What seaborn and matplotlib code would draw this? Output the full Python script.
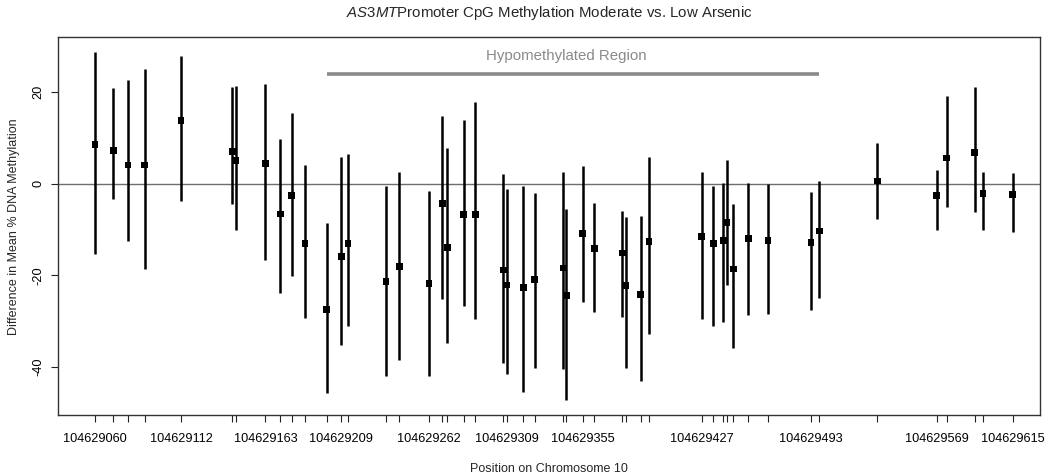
import numpy as np
import pandas as pd
import matplotlib
matplotlib.use("Agg")
import matplotlib.pyplot as plt
import seaborn as sns

# CpG positions on chromosome 10 (offset from 104629000)
offsets = [60, 71, 80, 90, 112, 143, 145, 163, 172, 179, 187, 200, 209, 213,
           236, 244, 262, 270, 273, 283, 290, 307, 309, 319, 326, 343, 345,
           355, 362, 379, 381, 390, 395, 427, 434, 440, 442, 446, 455, 467,
           493, 498, 533, 569, 575, 592, 597, 615]
positions = [104629000 + o for o in offsets]

# difference in mean % methylation (moderate vs. low) with CI bounds
mean_diff = [8.6, 7.3, 4.1, 4.1, 13.8, 7.1, 5.0, 4.4, -6.6, -2.6, -13.0, -27.5,
             -15.8, -13.0, -21.3, -18.1, -21.7, -4.4, -14.0, -6.8, -6.8, -18.8,
             -22.1, -22.7, -20.9, -18.4, -24.4, -10.8, -14.2, -15.1, -22.2,
             -24.1, -12.6, -11.6, -13.0, -12.3, -8.4, -18.6, -12.0, -12.3,
             -12.9, -10.3, 0.6, -2.5, 5.6, 6.8, -2.2, -2.4]
upper = [28.7, 20.8, 22.6, 25.1, 27.9, 21.0, 21.3, 21.7, 9.7, 15.4, 4.1, -8.5,
         5.9, 6.4, -0.4, 2.5, -1.6, 14.8, 7.8, 13.9, 17.8, 2.1, -1.2, -0.5,
         -2.1, 2.6, -5.6, 3.8, -4.3, -6.0, -7.3, -7.0, 5.8, 2.6, -0.5, 0.1,
         5.2, -4.5, 0.1, -0.1, -1.7, 0.5, 8.9, 2.9, 19.2, 21.2, 2.6, 2.4]
lower = [-15.4, -3.4, -12.6, -18.6, -3.8, -4.4, -10.1, -16.6, -23.9, -20.1,
         -29.2, -45.7, -35.2, -31.0, -41.9, -38.5, -41.9, -25.2, -34.8, -26.7,
         -29.6, -39.0, -41.5, -45.5, -40.3, -40.5, -47.2, -25.9, -28.0, -29.1,
         -40.1, -43.0, -32.8, -29.5, -31.0, -30.1, -22.1, -35.9, -28.7, -28.4,
         -27.5, -24.9, -7.8, -10.2, -5.1, -6.2, -10.2, -10.5]

# positions that get a printed tick label
labelled = [104629060, 104629112, 104629163, 104629209, 104629262, 104629309,
            104629355, 104629427, 104629493, 104629569, 104629615]

# hypomethylated region bracket
region_start, region_end = 104629200, 104629498
region_y = 23.9
region_label_x = 104629345

df = pd.DataFrame({"pos": positions, "diff": mean_diff, "lo": lower, "hi": upper})

sns.set_style("white")
plt.rcParams["font.family"] = ["Liberation Sans", "DejaVu Sans"]
plt.rcParams["mathtext.fontset"] = "custom"
plt.rcParams["mathtext.it"] = "Liberation Sans:italic"
plt.rcParams["mathtext.rm"] = "Liberation Sans"

fig = plt.figure(figsize=(10.5, 4.74), dpi=100)
ax = fig.add_axes([0.0552, 0.1245, 0.9353, 0.7964])

ax.axhline(0, color="#6e6e6e", lw=1.0, zorder=1)
ax.vlines(df["pos"], df["lo"], df["hi"], color="black", lw=1.8, zorder=2)
sns.scatterplot(data=df, x="pos", y="diff", marker="s", s=24, color="black",
                edgecolor="none", ax=ax, zorder=3)

ax.hlines(region_y, region_start, region_end, color="#8a8a8a", lw=2.6)
ax.text(region_label_x, 27.9, "Hypomethylated Region",
        color="#8a8a8a", fontsize=10.8, ha="center", va="center")

ax.set_xlim(104629037.6, 104629631.5)
ax.set_ylim(-50.45, 31.9)

ax.set_xticks(positions)
ax.set_xticklabels([str(p) if p in labelled else "" for p in positions])
ax.set_yticks([-40, -20, 0, 20])
ax.set_yticklabels(["-40", "-20", "0", "20"], rotation=90, va="center")
ax.tick_params(axis="both", direction="out", length=5, width=0.8,
               colors="#222222", labelsize=9.2, labelcolor="black",
               bottom=True, left=True)
ax.tick_params(axis="x", pad=8)
ax.tick_params(axis="y", pad=5)

for sp in ax.spines.values():
    sp.set_color("#333333")
    sp.set_linewidth(1.0)

ax.set_xlabel("Position on Chromosome 10", fontsize=9, labelpad=13)
ax.set_ylabel("Difference in Mean % DNA Methylation", fontsize=9, labelpad=9)
ax.set_title(r"$\mathit{AS3MT}$Promoter CpG Methylation Moderate vs. Low Arsenic",
             fontsize=10.8, pad=15)

fig.savefig("out.png", dpi=100)
